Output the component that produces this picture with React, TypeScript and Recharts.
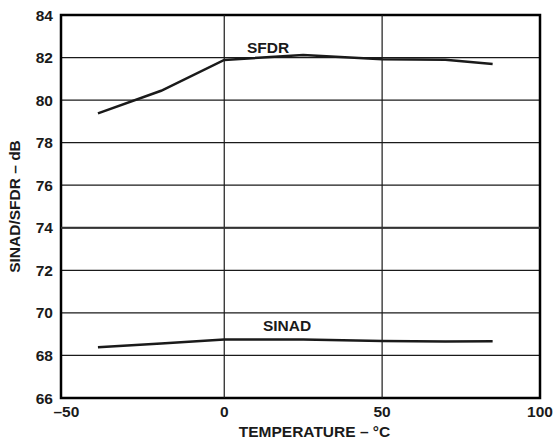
import React from 'react';
import {
  LineChart, Line, XAxis, YAxis, CartesianGrid, ReferenceLine,
  ReferenceArea, ReferenceDot,
} from 'recharts';

const temps = [-40, -20, 0, 25, 50, 70, 85];
const sfdr = [79.38, 80.44, 81.89, 82.12, 81.92, 81.9, 81.7];
const sinad = [68.38, 68.56, 68.75, 68.75, 68.68, 68.66, 68.67];

const xTicks = [-50, 0, 50, 100];
const yTicks = [66, 68, 70, 72, 74, 76, 78, 80, 82, 84];

const data = temps.map((t, i) => ({ temp: t, sfdr: sfdr[i], sinad: sinad[i] }));

const FONT = '"Liberation Sans", Arial, sans-serif';
const INK = '#1a1a1a';
const tickStyle = { fill: INK, fontSize: 15.5, fontWeight: 700, fontFamily: FONT };

const fmt = (v: number) => (v < 0 ? `–${Math.abs(v)}` : `${v}`);

export default function App() {
  return (
    <div style={{ position: 'absolute', left: 0, top: 0, background: '#fff' }}>
      <LineChart
        width={553}
        height={444}
        data={data}
        margin={{ top: 15, right: 13, left: 0, bottom: 0 }}
      >
        <CartesianGrid vertical={false} stroke={INK} strokeWidth={1.2} />
        <XAxis
          dataKey="temp"
          type="number"
          domain={[-51.7, 100]}
          ticks={xTicks}
          tickFormatter={fmt}
          tick={tickStyle}
          tickLine={false}
          tickSize={0}
          tickMargin={8}
          height={46}
          axisLine={false}
          allowDataOverflow
          label={{
            value: 'TEMPERATURE – °C',
            position: 'insideBottom',
            offset: 7,
            dx: 14,
            style: tickStyle,
          }}
        />
        <YAxis
          type="number"
          domain={[66, 84]}
          ticks={yTicks}
          tick={tickStyle}
          tickLine={false}
          tickSize={0}
          tickMargin={8}
          width={61}
          axisLine={false}
          label={{
            value: 'SINAD/SFDR – dB',
            angle: -90,
            position: 'insideLeft',
            offset: 14,
            style: { ...tickStyle, textAnchor: 'middle' },
          }}
        />
        <ReferenceLine x={0} stroke={INK} strokeWidth={1.2} />
        <ReferenceLine x={50} stroke={INK} strokeWidth={1.2} />
        <ReferenceLine y={74} stroke="#333" strokeWidth={2} />
        <ReferenceArea
          x1={-51.7}
          x2={100}
          y1={66}
          y2={84}
          fill="none"
          stroke="#000"
          strokeWidth={2.5}
        />
        <Line
          dataKey="sfdr"
          type="linear"
          stroke={INK}
          strokeWidth={2.5}
          dot={false}
          isAnimationActive={false}
        />
        <Line
          dataKey="sinad"
          type="linear"
          stroke={INK}
          strokeWidth={2.5}
          dot={false}
          isAnimationActive={false}
        />
        <ReferenceDot
          x={13.9}
          y={82.45}
          r={0}
          stroke="none"
          label={{ value: 'SFDR', position: 'center', style: tickStyle }}
        />
        <ReferenceDot
          x={19.9}
          y={69.39}
          r={0}
          stroke="none"
          label={{ value: 'SINAD', position: 'center', style: tickStyle }}
        />
      </LineChart>
    </div>
  );
}
